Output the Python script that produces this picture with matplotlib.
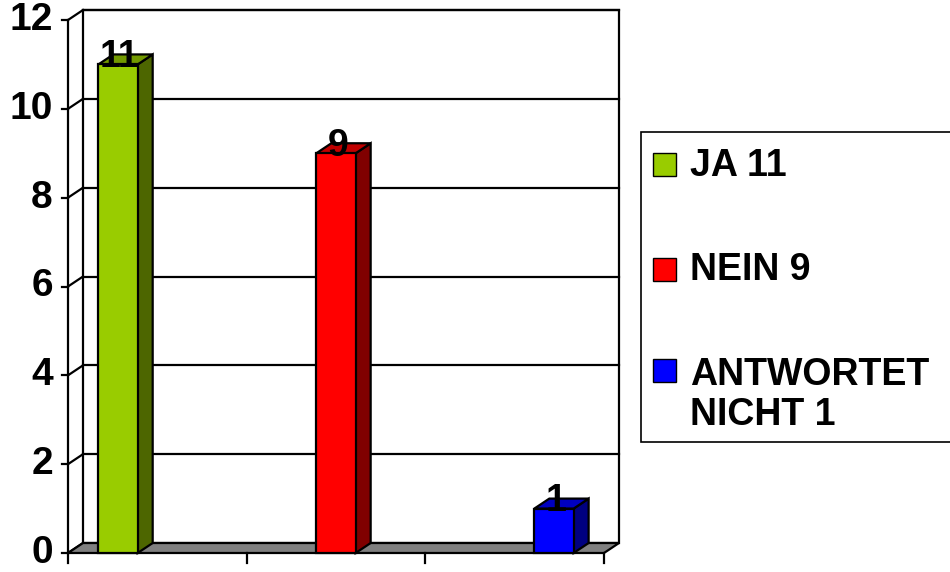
import matplotlib
matplotlib.use("Agg")
import matplotlib.pyplot as plt
from matplotlib.patches import Polygon, Rectangle

plt.rcParams['font.family'] = ['Liberation Sans', 'DejaVu Sans']
plt.rcParams['font.weight'] = 'bold'

# data
labels = ["JA 11", "NEIN 9", "ANTWORTET\nNICHT 1"]
values = [11, 9, 1]
front_colors = ["#99cc00", "#ff0000", "#0000ff"]
side_colors = ["#4d6600", "#800000", "#000080"]
top_colors = ["#739900", "#c00000", "#0000c0"]
yticks = [0, 2, 4, 6, 8, 10, 12]

# layout (category units on x, value units on y)
bar_pos = [0.28, 1.5, 2.72]
bar_w = 0.22
dx, dy = 0.084, 0.225   # depth offset of the 3d look
lw = 1.6

fig = plt.figure(figsize=(9.5, 5.72), dpi=100)
ax = fig.add_axes([68/950, 19/572, (604-68)/950, (553-20)/572])
ax.set_xlim(0, 3)
ax.set_ylim(0, 12)
ax.axis('off')

# back wall
ax.add_patch(Polygon([(dx, dy), (3+dx, dy), (3+dx, 12+dy), (dx, 12+dy)],
                     closed=True, facecolor='white', edgecolor='black', lw=lw, clip_on=False, zorder=1))
for y in yticks[1:]:
    ax.plot([dx, 3+dx], [y+dy, y+dy], color='black', lw=lw, clip_on=False, zorder=1)
# left side wall edges
for y in yticks:
    ax.plot([0, dx], [y, y+dy], color='black', lw=lw, clip_on=False, zorder=1)
ax.plot([0, 0], [0, 12], color='black', lw=lw, clip_on=False, zorder=1)
# floor
ax.add_patch(Polygon([(0, 0), (3, 0), (3+dx, dy), (dx, dy)], closed=True,
                     facecolor='#808080', edgecolor='black', lw=lw, clip_on=False, zorder=2))

# y ticks and labels
for y in yticks:
    ax.plot([-0.035, 0], [y, y], color='black', lw=lw, clip_on=False)
    ax.text(-0.085, y, str(y), ha='right', va='center', fontsize=28, fontweight='bold')
# x ticks
for x in range(4):
    ax.plot([x, x], [0, -0.23], color='black', lw=lw, clip_on=False)

# bars
for x, v, fc, sc, tc in zip(bar_pos, values, front_colors, side_colors, top_colors):
    x0 = x - bar_w/2
    x1 = x + bar_w/2
    ax.add_patch(Polygon([(x1, 0), (x1+dx, dy), (x1+dx, v+dy), (x1, v)], closed=True,
                         facecolor=sc, edgecolor='black', lw=lw, clip_on=False, zorder=3))
    ax.add_patch(Polygon([(x0, v), (x1, v), (x1+dx, v+dy), (x0+dx, v+dy)], closed=True,
                         facecolor=tc, edgecolor='black', lw=lw, clip_on=False, zorder=3))
    ax.add_patch(Rectangle((x0, 0), bar_w, v, facecolor=fc, edgecolor='black',
                           lw=lw, clip_on=False, zorder=4))
    ax.text(x + 0.01, v - 0.06, str(v), ha='center', va='baseline', fontsize=27,
            fontweight='bold', zorder=5)

# legend box
fig.add_artist(Rectangle((641/950, (572-442)/572), 330/950, 310/572, transform=fig.transFigure,
                         facecolor='white', edgecolor='black', lw=1.2))
marker_y = [165, 270, 371]
text_y = [166, 270, 395]
for my, ty, lab, fc in zip(marker_y, text_y, labels, front_colors):
    fig.add_artist(Rectangle((653/950, (572-my-11)/572), 23/950, 23/572,
                             transform=fig.transFigure, facecolor=fc, edgecolor='black', lw=1.0))
    fig.text(690/950, (572-ty)/572, lab, ha='left', va='center', fontsize=27,
             fontweight='bold', linespacing=1.12)

fig.savefig("out.png", dpi=100)
